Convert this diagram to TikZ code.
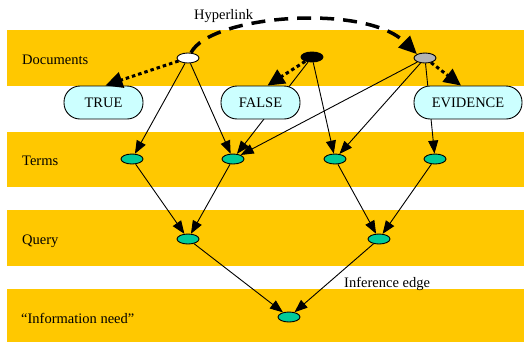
\documentclass[tikz,border=0pt]{standalone}
\usepackage{fontspec}
\setmainfont{Liberation Serif}
\usetikzlibrary{arrows.meta,shapes.geometric}
\definecolor{bandc}{RGB}{255,200,0}
\definecolor{tealc}{RGB}{0,204,153}
\definecolor{boxc}{RGB}{204,255,255}
\definecolor{grayd}{RGB}{179,179,179}
\pgfdeclarelayer{bands}\pgfdeclarelayer{edges}\pgfsetlayers{bands,edges,main}
\begin{document}
\begin{tikzpicture}[x=1pt,y=-1pt, font=\fontsize{14.5}{17}\selectfont,
 dot/.style={ellipse,draw,line width=0.9pt,minimum width=22pt,minimum height=10pt,inner sep=0pt},
 term/.style={dot,fill=tealc},
 valbox/.style={draw,line width=0.9pt,fill=boxc,rounded corners=16pt,minimum height=33pt,inner sep=0pt},
 edge/.style={line width=0.9pt,-{Triangle[length=13pt,width=10pt]}},
 dotarrow/.style={line width=3pt,dash pattern=on 3.5pt off 3pt,-{Triangle[length=17pt,width=16pt]}},
 lbl/.style={anchor=base west,inner sep=0pt}]
\useasboundingbox (0,0) rectangle (524,343);
\begin{pgfonlayer}{bands}
\fill[bandc] (7,30) rectangle (524,86);
\fill[bandc] (7,132) rectangle (524,187);
\fill[bandc] (7,210) rectangle (524,266);
\fill[bandc] (7,289) rectangle (524,342);
\end{pgfonlayer}
\node[dot,fill=white] (d1) at (188,58) {};
\node[dot,fill=black] (d2) at (312,57) {};
\node[dot,fill=grayd] (d3) at (425,58) {};
\node[valbox,minimum width=79pt] (T) at (103.5,102.5) {TRUE};
\node[valbox,minimum width=79pt] (F) at (260.5,102.5) {FALSE};
\node[valbox,minimum width=108pt] (E) at (468,102.5) {EVIDENCE};
\node[term] (t1) at (132,159) {};
\node[term] (t2) at (233,159) {};
\node[term] (t3) at (335,159) {};
\node[term] (t4) at (435,159) {};
\node[term] (q1) at (188,239) {};
\node[term] (q2) at (379,239) {};
\node[term] (in) at (289,317) {};
\node[lbl] (lh) at (194,19.5) {Hyperlink};
\node[lbl] (ld) at (22,64.3) {Documents};
\node[lbl] (lt) at (22,165) {Terms};
\node[lbl] (lq) at (22,244) {Query};
\node[lbl] (li) at (21,323.3) {“Information need”};
\node[lbl] (le) at (344,287.7) {Inference edge};
\begin{pgfonlayer}{edges}
\draw[edge] (d1) -- (t1);
\draw[edge] (d1) -- (t2);
\draw[edge] (d2) -- (t2);
\draw[edge] (d2) -- (t3);
\draw[edge] (d3) -- (t2);
\draw[edge] (d3) -- (t3);
\draw[edge] (d3) -- (t4);
\draw[edge] (t1) -- (q1);
\draw[edge] (t2) -- (q1);
\draw[edge] (t3) -- (q2);
\draw[edge] (t4) -- (q2);
\draw[edge] (q1) -- (in);
\draw[edge] (q2) -- (in);
\end{pgfonlayer}
\draw[dotarrow] (d1) .. controls (150,70) .. ([xshift=2pt]T.north);
\draw[dotarrow] (d2) -- ([xshift=7pt]F.north);
\draw[dotarrow] (d3) -- ([xshift=-7pt]E.north);
\draw[line width=3.5pt,dash pattern=on 14pt off 9pt,-{Triangle[length=18pt,width=16pt]}] (d1.60) .. controls (210,15) and (365,3) .. (d3.north west);
\end{tikzpicture}
\end{document}
